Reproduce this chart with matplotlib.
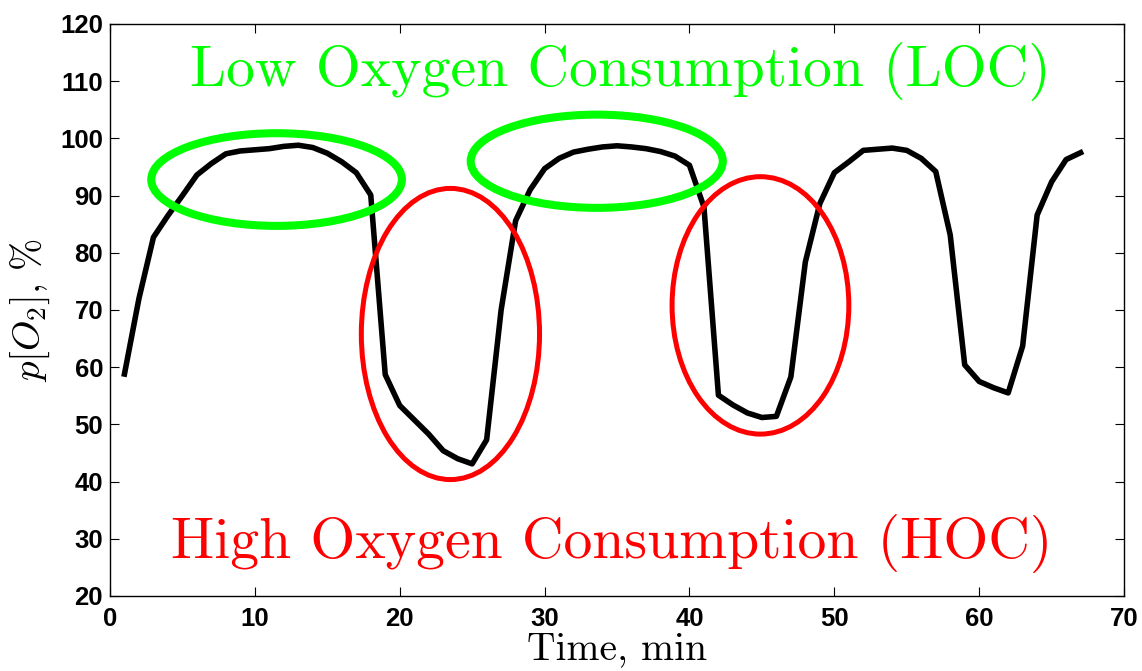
import matplotlib.pyplot as plt
from matplotlib.patches import Ellipse

plt.rcParams['mathtext.fontset'] = 'cm'

# oxygen partial pressure sampled once a minute
minutes = list(range(1, 68))
po2 = [58.8, 72.0, 82.7, 86.5, 90.0, 93.6, 95.6, 97.3, 97.8, 98.0,
       98.2, 98.6, 98.8, 98.4, 97.4, 95.9, 94.0, 90.1, 58.7, 53.3,
       50.8, 48.3, 45.4, 44.0, 43.1, 47.3, 70.0, 85.6, 91.0, 94.7,
       96.5, 97.6, 98.1, 98.5, 98.7, 98.5, 98.2, 97.7, 96.9, 95.3,
       88.0, 55.1, 53.4, 52.0, 51.2, 51.4, 58.3, 78.4, 88.6, 94.0,
       95.9, 97.9, 98.1, 98.3, 97.9, 96.5, 94.2, 83.1, 60.4, 57.5,
       56.4, 55.5, 63.7, 86.6, 92.4, 96.3, 97.5]

# highlighted regions: (centre time, centre pO2, width, height)
loc_regions = [(11.5, 92.8, 17.3, 16.2), (33.6, 96.0, 17.4, 16.3)]
hoc_regions = [(23.5, 65.8, 12.3, 50.9), (44.9, 70.8, 12.2, 45.0)]

fig = plt.figure(figsize=(11.42, 6.71), dpi=100)
ax = fig.add_axes([0.0963, 0.1118, 0.888, 0.8525])

ax.plot(minutes, po2, color='black', linewidth=4, zorder=2)

for cx, cy, w, h in loc_regions:
    ax.add_patch(Ellipse((cx, cy), w, h, fill=False, edgecolor='#00ff00',
                         linewidth=5.8, zorder=3))
for cx, cy, w, h in hoc_regions:
    ax.add_patch(Ellipse((cx, cy), w, h, fill=False, edgecolor='#ff0000',
                         linewidth=3.6, zorder=3))

ax.text(35.2, 109.2, 'Low Oxygen Consumption (LOC)', color='#00ff00',
        fontname='cmr10', fontsize=41.5, ha='center', va='baseline')
ax.text(34.6, 26.6, 'High Oxygen Consumption (HOC)', color='#ff0000',
        fontname='cmr10', fontsize=41.5, ha='center', va='baseline')

ax.set_xlim(0, 70)
ax.set_ylim(20, 120)
ax.set_xticks(range(0, 71, 10))
ax.set_yticks(range(20, 121, 10))
ax.tick_params(direction='in', length=6.5, width=0.8, top=True, right=True)
ax.tick_params(axis='x', pad=8)
ax.tick_params(axis='y', pad=5)
for lbl in ax.get_xticklabels() + ax.get_yticklabels():
    lbl.set_fontfamily('Liberation Sans')
    lbl.set_fontweight('bold')
    lbl.set_fontsize(18.5)
for sp in ax.spines.values():
    sp.set_linewidth(1.0)

ax.set_xlabel('Time, min', fontname='cmr10', fontsize=28.5, labelpad=0)
ax.set_ylabel(r'$p[O_2]$, %', fontname='cmr10', fontsize=28, labelpad=6)

fig.savefig('out.png', dpi=100)
